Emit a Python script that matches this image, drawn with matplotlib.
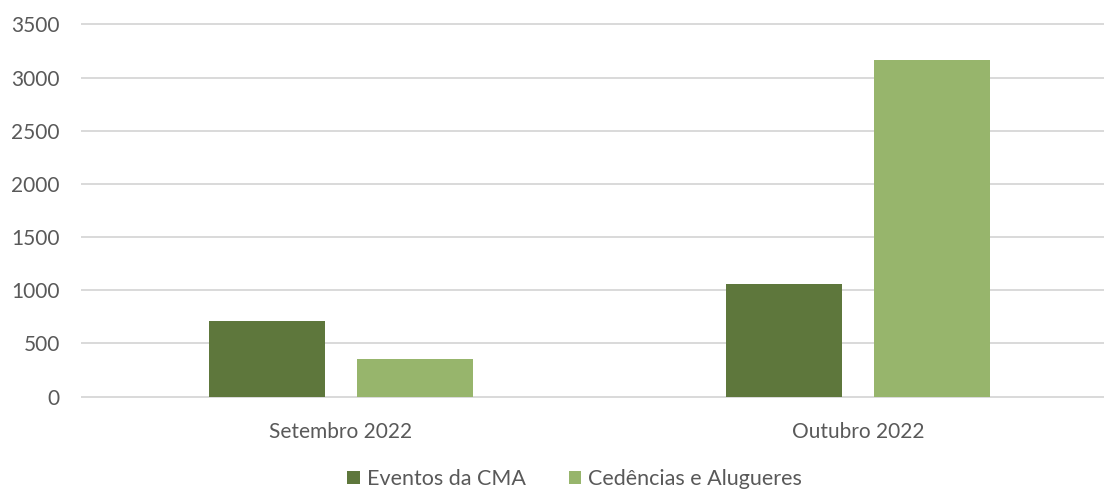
import numpy as np
import matplotlib.pyplot as plt

categorias = ['Setembro 2022', 'Outubro 2022']
eventos_cma = [715, 1062]
cedencias = [350, 3170]
series_nomes = ['Eventos da CMA', 'Cedências e Alugueres']
cores = ['#5E773C', '#97B56C']
yticks = [0, 500, 1000, 1500, 2000, 2500, 3000, 3500]

plt.rcParams['font.family'] = ['Lato', 'DejaVu Sans']
cinza = '#595959'

fig = plt.figure(figsize=(11.04, 4.9), dpi=100)
ax = fig.add_axes([82 / 1104, 1 - 396.5 / 490, 1 - 82 / 1104, (396.5 - 24.5) / 490])

x = np.arange(len(categorias))
w = 0.224
off = 0.143
ax.bar(x - off, eventos_cma, w, color=cores[0], label=series_nomes[0], zorder=3)
ax.bar(x + off, cedencias, w, color=cores[1], label=series_nomes[1], zorder=3)

ax.set_xlim(-0.5, 1.475)
ax.set_ylim(0, 3500)
ax.set_yticks(yticks)
ax.set_xticks(x)
ax.set_xticklabels(categorias)
ax.grid(axis='y', color='#D9D9D9', linewidth=1.4, zorder=0)
for gl in ax.get_ygridlines():
    gl.set_clip_on(False)
for s in ax.spines.values():
    s.set_visible(False)
ax.tick_params(axis='both', length=0, labelsize=15, colors=cinza)
ax.tick_params(axis='x', pad=18)
ax.tick_params(axis='y', pad=16)

fig.legend(loc='center', bbox_to_anchor=(574.5 / 1104, 1 - 479 / 490), ncol=2,
           frameon=False, fontsize=15.5, labelcolor=cinza, handlelength=0.6,
           handleheight=0.6, handletextpad=0.3, columnspacing=2.0)

fig.savefig('out.png', dpi=100)
